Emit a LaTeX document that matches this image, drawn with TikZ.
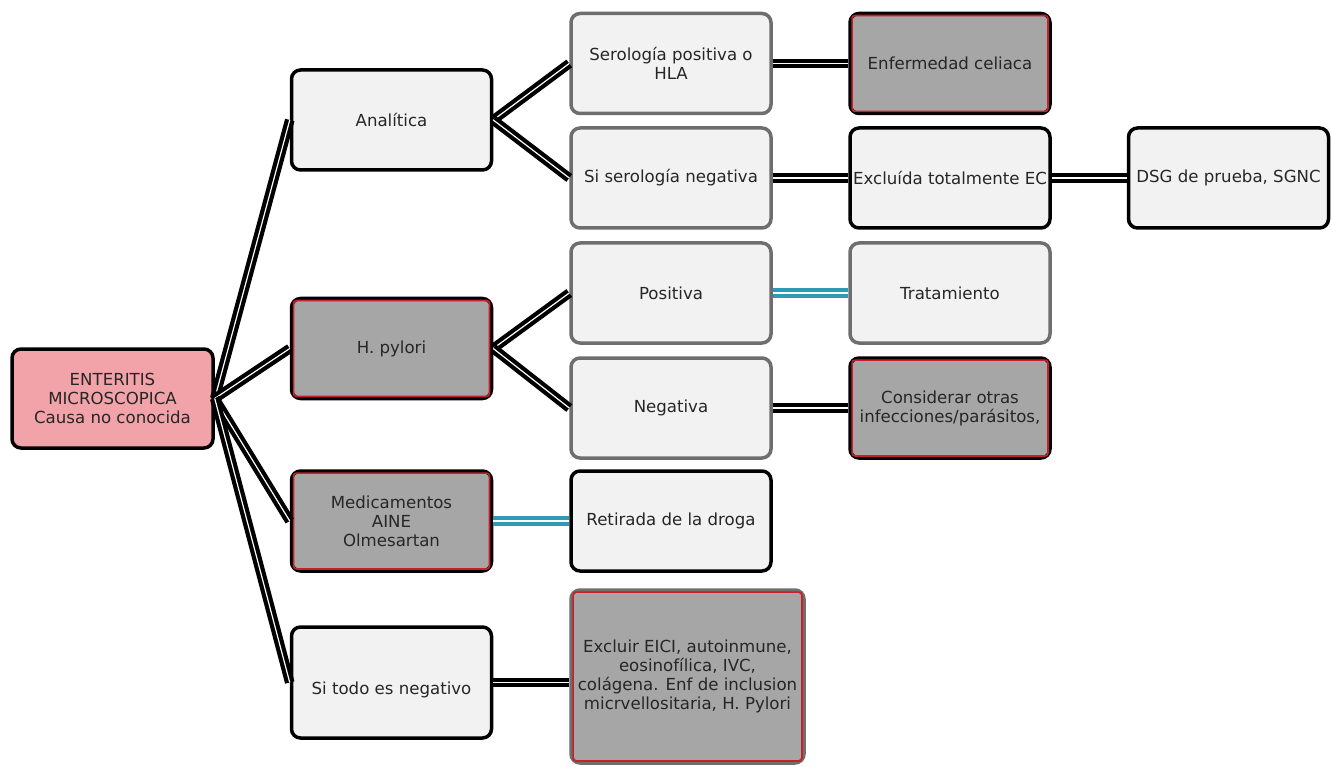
\documentclass[tikz,border=0pt]{standalone}
\usepackage{fontspec}
\setmainfont{DejaVu Sans}
\begin{document}
\begin{tikzpicture}[x=1pt,y=-1pt,
  box/.style={rounded corners=9pt, line width=3.5pt, minimum width=200pt, minimum height=100pt,
    align=center, font=\fontsize{16.6}{19}\selectfont, text=black!85, inner sep=2pt},
  lightbox/.style={box, draw=black, fill=boxlight},
  graylightbox/.style={box, draw=bordgray, fill=boxlight},
  darkbox/.style={box, draw=black, fill=boxgray},
  conn/.style={draw=black, double=white, line width=4.2pt, double distance=1.2pt},
  bconn/.style={draw=linkblue, double=white, line width=4.2pt, double distance=1.2pt}]
\definecolor{boxlight}{HTML}{F2F2F2}
\definecolor{boxgray}{HTML}{A6A6A6}
\definecolor{bordgray}{HTML}{6E6E6E}
\definecolor{rootpink}{HTML}{F2A3AA}
\definecolor{linkblue}{HTML}{2E9AB5}
\definecolor{innerred}{HTML}{C8202A}
\useasboundingbox (0,0) rectangle (1333,767);
\fill[white] (0,0) rectangle (1333,767);

% level 0
\node[box, draw=black, fill=rootpink, minimum width=201pt, minimum height=99pt] (root) at (112.5,398.5)
  {ENTERITIS\\MICROSCOPICA\\Causa no conocida};

% level 1
\node[lightbox] (ana) at (391.5,120) {Analítica};
\node[darkbox] (hp) at (391.5,348.5) {H. pylori};
\node[darkbox] (med) at (391.5,521) {Medicamentos\\AINE\\Olmesartan};
\node[lightbox, minimum height=111pt] (todo) at (391.5,682.5) {\raisebox{-8pt}[12pt][4pt]{Si todo es negativo}};

% level 2
\node[graylightbox] (ser) at (671,63.5) {Serología positiva o\\HLA};
\node[graylightbox] (sneg) at (671,178) {Si serología negativa};
\node[graylightbox] (pos) at (671,293) {Positiva};
\node[graylightbox] (neg) at (671,408) {Negativa};
\node[lightbox] (ret) at (671,521) {Retirada de la droga};
\node[box, draw=bordgray, fill=boxgray, minimum width=233pt, minimum height=173pt] (exc) at (687.5,676.5)
  {Excluir EICI, autoinmune,\\eosinofílica, IVC,\\colágena. Enf de inclusion\\micrvellositaria, H. Pylori};

% level 3
\node[darkbox] (cel) at (950,63.5) {Enfermedad celiaca};
\node[lightbox] (exe) at (950,178) {Excluída totalmente EC};
\node[graylightbox] (tra) at (950,293) {Tratamiento};
\node[darkbox] (con) at (950,408) {Considerar otras\\infecciones/parásitos,};

% level 4
\node[lightbox] (dsg) at (1228.5,178) {DSG de prueba, SGNC};

% inner red lines
\foreach \n in {hp,med,cel,con,exc}{
  \draw[innerred, line width=1.6pt, rounded corners=3pt]
    ([shift={(3.8,3.8)}]\n.north west) rectangle ([shift={(-3.8,-3.8)}]\n.south east);
}

% connectors
\draw[conn] (root.east) -- (ana.west);
\draw[conn] (root.east) -- (hp.west);
\draw[conn] (root.east) -- (med.west);
\draw[conn] (root.east) -- (todo.west);
\draw[conn] (ana.east) -- (ser.west);
\draw[conn] (ana.east) -- (sneg.west);
\draw[conn] (hp.east) -- (pos.west);
\draw[conn] (hp.east) -- (neg.west);
\draw[bconn] (med.east) -- (ret.west);
\draw[conn] (todo.east) -- (todo.east -| exc.west);
\draw[conn] (ser.east) -- (cel.west);
\draw[conn] (sneg.east) -- (exe.west);
\draw[bconn] (pos.east) -- (tra.west);
\draw[conn] (neg.east) -- (con.west);
\draw[conn] (exe.east) -- (dsg.west);
\end{tikzpicture}
\end{document}
